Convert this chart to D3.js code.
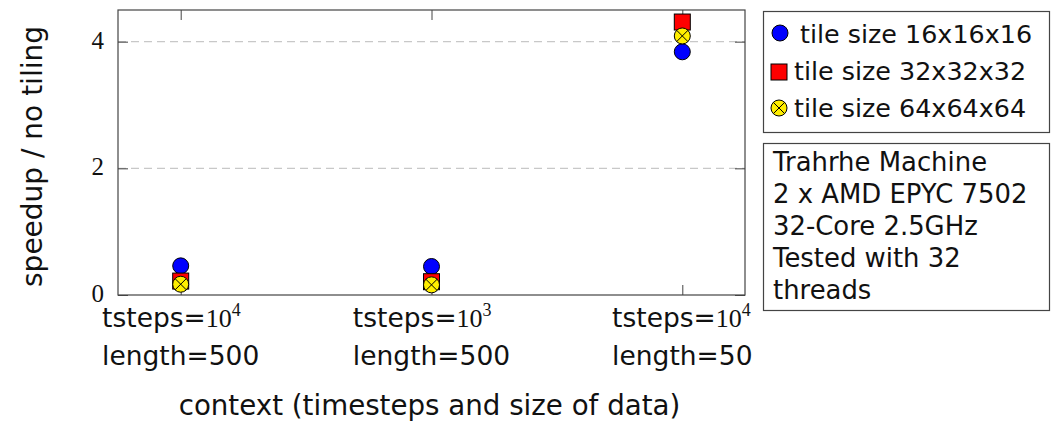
<!DOCTYPE html>
<html><head><meta charset="utf-8">
<script src="https://cdn.jsdelivr.net/npm/d3@7"></script>
<style>body{margin:0;background:#fff}</style></head>
<body><svg id="c" width="1051" height="424"></svg>
<script>
const categories = ["A", "B", "C"];
const tstepsExp = ["4", "3", "4"];
const lengths = ["500", "500", "50"];
const tile16 = [0.46, 0.45, 3.84];
const tile32 = [0.22, 0.21, 4.31];
const tile64 = [0.17, 0.16, 4.09];
const yTicks = [0, 2, 4];
const legendLabels = ["tile size 16x16x16", "tile size 32x32x32", "tile size 64x64x64"];
const infoLines = ["Trahrhe Machine", "2 x AMD EPYC 7502", "32-Core 2.5GHz", "Tested with 32", "threads"];

const SANS = "'DejaVu Sans', sans-serif";
const SERIF = "'Liberation Serif', serif";
const svg = d3.select("#c");
const L = 118, R = 745, T = 10, B = 295;
const x = d3.scalePoint().domain(categories).range([L, R]).padding(0.25);
const y = d3.scaleLinear().domain([0, 4.5]).range([B, T]);
const frame = "#444";
const ink = "#111";

// grid
svg.append("g").selectAll("line").data(yTicks.filter(d => d > 0)).join("line")
  .attr("x1", L).attr("x2", R).attr("y1", d => y(d)).attr("y2", d => y(d))
  .attr("stroke", "#c8c8c8").attr("stroke-width", 1.2).attr("stroke-dasharray", "8,5");

// axes (ticks inward, mirrored)
const gL = svg.append("g").attr("transform", `translate(${L},0)`)
  .call(d3.axisRight(y).tickValues(yTicks).tickSize(10).tickFormat(""));
const gR = svg.append("g").attr("transform", `translate(${R},0)`)
  .call(d3.axisLeft(y).tickValues(yTicks).tickSize(10).tickFormat(""));
const gB = svg.append("g").attr("transform", `translate(0,${B})`)
  .call(d3.axisTop(x).tickSize(10).tickFormat(""));
const gT = svg.append("g").attr("transform", `translate(0,${T})`)
  .call(d3.axisBottom(x).tickSize(10).tickFormat(""));
[gL, gR, gB, gT].forEach(g => { g.select(".domain").remove(); g.selectAll("line").attr("stroke", frame); });
svg.append("rect").attr("x", L).attr("y", T).attr("width", R - L).attr("height", B - T)
  .attr("fill", "none").attr("stroke", frame).attr("stroke-width", 1.2);

// y tick labels
svg.append("g").selectAll("text").data(yTicks).join("text")
  .attr("x", L - 14).attr("y", d => y(d) + 7).attr("text-anchor", "end")
  .attr("font-family", SERIF).attr("font-size", 25).attr("fill", ink).text(d => d);

// x tick labels (left-aligned block, centred on tick)
const xl = svg.append("g");
categories.forEach((c, i) => {
  const g = xl.append("g");
  const t1 = g.append("text").attr("x", 0).attr("y", 32).attr("font-size", 26.5).attr("fill", ink);
  t1.append("tspan").attr("font-family", SANS).text("tsteps=");
  t1.append("tspan").attr("font-family", SERIF).attr("font-size", 26).text("10");
  t1.append("tspan").attr("font-family", SERIF).attr("font-size", 18).attr("dy", -11).text(tstepsExp[i]);
  g.append("text").attr("x", 0).attr("y", 70).attr("font-family", SANS).attr("font-size", 26.5)
    .attr("fill", ink).text("length=" + lengths[i]);
  const w = g.node().getBBox().width;
  g.attr("transform", `translate(${x(c) - w / 2},${B})`);
});

// axis titles
svg.append("text").attr("x", (L + R) / 2 - 2).attr("y", 415).attr("text-anchor", "middle")
  .attr("font-family", SANS).attr("font-size", 27.7).attr("fill", ink)
  .text("context (timesteps and size of data)");
svg.append("text").attr("transform", `translate(42,${(T + B) / 2 + 4}) rotate(-90)`).attr("text-anchor", "middle")
  .attr("font-family", SANS).attr("font-size", 28).attr("fill", ink).text("speedup / no tiling");

// markers
function circle(g, cx, cy, fill) {
  g.append("circle").attr("cx", cx).attr("cy", cy).attr("r", 8).attr("fill", fill).attr("stroke", "#000").attr("stroke-width", 1);
}
function square(g, cx, cy) {
  g.append("rect").attr("x", cx - 8).attr("y", cy - 8).attr("width", 16).attr("height", 16)
    .attr("fill", "#ff0000").attr("stroke", "#000").attr("stroke-width", 1);
}
function otimes(g, cx, cy) {
  circle(g, cx, cy, "#ffee00");
  const k = 8 * Math.SQRT1_2;
  g.append("path").attr("d", `M${cx - k},${cy - k}L${cx + k},${cy + k}M${cx - k},${cy + k}L${cx + k},${cy - k}`)
    .attr("stroke", "#000").attr("stroke-width", 1);
}
const pts = svg.append("g");
categories.forEach((c, i) => circle(pts, x(c), y(tile16[i]), "#0000ff"));
categories.forEach((c, i) => square(pts, x(c), y(tile32[i])));
categories.forEach((c, i) => otimes(pts, x(c), y(tile64[i])));

// legend
const lg = svg.append("g");
lg.append("rect").attr("x", 763.5).attr("y", 11.5).attr("width", 286).attr("height", 121)
  .attr("fill", "#fff").attr("stroke", frame).attr("stroke-width", 1.2);
const rowY = [33, 72, 108];
const baseY = [43, 80, 117];
circle(lg, 780, rowY[0], "#0000ff");
square(lg, 779, rowY[1]);
otimes(lg, 779, rowY[2]);
const textX = [800, 794, 794];
legendLabels.forEach((t, i) => lg.append("text").attr("x", textX[i]).attr("y", baseY[i])
  .attr("font-family", SANS).attr("font-size", 25.4).attr("fill", ink).text(t));

// info box
const ib = svg.append("g");
ib.append("rect").attr("x", 763.5).attr("y", 143.5).attr("width", 286).attr("height", 167)
  .attr("fill", "#fff").attr("stroke", frame).attr("stroke-width", 1.2);
infoLines.forEach((t, i) => ib.append("text").attr("x", 773).attr("y", 171 + i * 32)
  .attr("font-family", SANS).attr("font-size", 25.9).attr("fill", ink).text(t));
</script></body></html>
